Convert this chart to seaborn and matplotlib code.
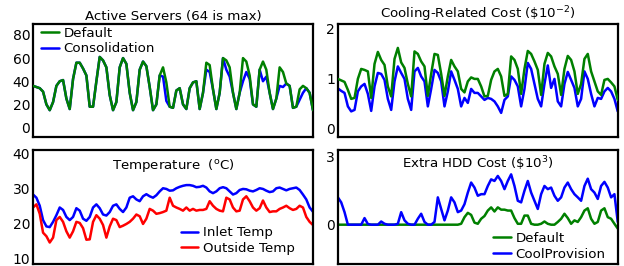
import seaborn as sns
import matplotlib.pyplot as plt
import pandas as pd

# active servers (sampled every ~4 hours)
servers_default = [
    36, 35, 34, 31, 20, 15, 22, 36, 40, 41,
    25, 16, 42, 56, 56, 51, 45, 18, 18, 40,
    61, 58, 52, 28, 15, 22, 52, 60, 55, 30,
    15, 22, 50, 57, 53, 35, 15, 20, 45, 52,
    39, 18, 17, 32, 34, 20, 16, 34, 39, 40,
    16, 30, 56, 54, 33, 16, 30, 60, 58, 52,
    30, 16, 30, 60, 57, 45, 20, 18, 50, 57,
    50, 30, 16, 25, 52, 48, 38, 36, 17, 18,
    33, 36, 34, 30, 15]
servers_consol = [
    36, 35, 34, 31, 20, 15, 22, 36, 40, 41,
    25, 16, 42, 56, 56, 51, 45, 18, 18, 40,
    61, 58, 52, 28, 15, 22, 52, 60, 55, 30,
    15, 22, 50, 57, 53, 35, 15, 20, 45, 44,
    23, 18, 17, 32, 34, 20, 16, 34, 39, 40,
    16, 30, 50, 48, 33, 16, 30, 60, 50, 44,
    30, 16, 30, 40, 48, 42, 20, 18, 50, 40,
    44, 30, 16, 25, 36, 35, 38, 36, 17, 18,
    24, 30, 34, 30, 15]

cooling_default = [
    1.00, 0.97, 0.94, 0.78, 0.60, 0.62, 1.00, 1.20, 1.18, 1.15,
    0.62, 1.30, 1.54, 1.38, 1.28, 0.85, 0.65, 1.40, 1.62, 1.33,
    1.22, 0.90, 0.65, 1.55, 1.50, 1.35, 1.25, 0.66, 1.10, 1.50,
    1.48, 1.10, 0.66, 1.05, 1.38, 1.25, 1.15, 0.80, 0.73, 0.95,
    1.03, 1.00, 1.00, 0.85, 0.65, 0.66, 0.98, 1.15, 1.20, 1.05,
    0.66, 0.70, 1.45, 1.38, 1.20, 0.70, 1.20, 1.56, 1.50, 1.35,
    1.18, 0.68, 1.30, 1.52, 1.45, 1.25, 1.10, 0.68, 1.20, 1.46,
    1.38, 1.15, 0.70, 0.90, 1.40, 1.50, 1.15, 0.95, 0.75, 0.68,
    0.98, 1.00, 0.93, 0.85, 0.58]
cooling_cp = [
    0.81, 0.76, 0.72, 0.45, 0.35, 0.38, 0.75, 0.85, 0.90, 0.70,
    0.36, 0.85, 1.12, 1.10, 0.98, 0.60, 0.38, 0.95, 1.25, 1.12,
    1.00, 0.60, 0.38, 1.15, 1.22, 1.05, 0.95, 0.45, 0.80, 1.18,
    1.12, 0.95, 0.45, 0.75, 1.15, 0.98, 0.80, 0.45, 0.62, 0.52,
    0.80, 0.72, 0.72, 0.65, 0.58, 0.62, 0.60, 0.55, 0.45, 0.32,
    0.58, 0.65, 1.05, 0.98, 0.85, 0.45, 0.80, 1.32, 1.20, 0.90,
    0.60, 0.45, 0.90, 1.27, 0.82, 1.00, 0.55, 0.45, 0.90, 1.14,
    0.98, 0.82, 0.45, 0.60, 1.15, 1.00, 0.70, 0.45, 0.62, 0.60,
    0.75, 0.82, 0.75, 0.60, 0.35]

inlet_temp = [
    28.4, 27.5, 25.2, 21.1, 19.3, 19.1, 20.6, 22.5, 24.7, 24.0,
    22.0, 21.1, 22.0, 24.5, 23.8, 21.5, 20.9, 22.0, 24.7, 25.6,
    24.5, 22.7, 22.4, 23.4, 25.2, 25.6, 24.3, 23.4, 24.7, 27.5,
    27.9, 27.0, 26.5, 27.9, 28.5, 27.9, 27.5, 28.2, 29.3, 30.2,
    30.0, 29.5, 29.6, 30.2, 30.6, 30.9, 31.1, 31.1, 30.9, 30.5,
    30.6, 30.9, 30.4, 29.3, 28.8, 29.3, 30.2, 30.5, 30.2, 29.3,
    28.4, 28.8, 29.7, 30.0, 29.9, 29.5, 29.3, 29.7, 30.2, 30.0,
    29.5, 29.1, 29.3, 30.2, 30.4, 30.0, 29.6, 30.0, 30.2, 30.4,
    29.7, 28.4, 27.0, 24.7, 23.5]
outside_temp = [
    24.7, 25.6, 22.9, 17.5, 16.5, 14.7, 16.1, 21.1, 22.0, 20.6,
    17.9, 16.1, 17.9, 20.6, 20.3, 18.8, 15.5, 15.6, 20.6, 22.5,
    21.5, 19.7, 16.1, 19.3, 21.5, 21.1, 19.1, 19.5, 20.0, 20.6,
    21.5, 22.7, 22.2, 20.0, 21.5, 24.3, 23.8, 22.9, 23.1, 23.4,
    23.8, 27.5, 25.2, 24.7, 24.3, 23.8, 24.7, 23.8, 24.3, 23.8,
    24.0, 24.0, 24.3, 26.5, 25.2, 24.3, 23.8, 23.6, 27.5, 27.0,
    24.7, 23.6, 23.8, 27.0, 27.9, 26.5, 24.7, 23.8, 24.5, 26.7,
    24.7, 23.4, 23.6, 23.6, 24.3, 24.7, 25.2, 24.5, 24.0, 24.3,
    25.2, 24.7, 22.0, 20.6, 19.7]

hdd_default = [
    0, 0, 0, 0, 0, 0, 0, 0, 0, 0,
    0, 0, 0, 0, 0, 0, 0, 0, 0, 0,
    0, 0, 0, 0, 0, 0, 0, 0, 0, 0,
    0, 0, 0, 0, 0, 0, 0, 0.04, 0.33, 0.52,
    0.43, 0.09, 0.04, 0.26, 0.38, 0.62, 0.76, 0.58, 0.76, 0.66,
    0.66, 0.62, 0.62, 0.29, 0.04, 0.04, 0.40, 0.40, 0.04, 0,
    0, 0.04, 0.14, 0.04, 0, 0, 0.12, 0.26, 0.48, 0.29,
    0.04, 0.19, 0.12, 0.33, 0.62, 0.72, 0.26, 0.04, 0.12, 0.62,
    0.72, 0.33, 0.26, 0.04, -0.17]
hdd_cp = [
    1.20, 0.98, 0.55, 0, 0, 0, 0, 0, 0.29, 0.03,
    0, 0, 0, 0.14, 0.04, 0, 0, 0, 0.04, 0.55,
    0.19, 0.04, 0, 0, 0.26, 0.48, 0.12, 0, 0, 0.12,
    1.20, 0.69, 0.19, 0.62, 1.20, 0.98, 0.55, 0.62, 0.90, 1.41,
    1.85, 1.63, 1.27, 1.34, 1.34, 1.70, 1.99, 1.92, 2.14, 1.92,
    1.56, 1.92, 2.21, 1.70, 1.05, 0.98, 1.49, 1.92, 1.41, 1.05,
    0.69, 1.34, 1.70, 1.56, 1.63, 1.27, 1.05, 1.20, 1.63, 1.85,
    1.56, 1.34, 1.20, 1.05, 1.70, 2.02, 1.56, 1.41, 1.13, 1.70,
    1.88, 1.63, 1.20, 1.34, 0.12]


def long_df(series):
    rows = []
    for name, vals in series.items():
        for i, v in enumerate(vals):
            rows.append({'t': i, 'val': v, 'series': name})
    return pd.DataFrame(rows)


sns.set_style('white')
plt.rcParams['font.family'] = ['DejaVu Sans']
plt.rcParams['text.color'] = 'black'
plt.rcParams['ytick.color'] = 'black'
plt.rcParams['axes.labelcolor'] = 'black'
FS = 9.6

fig, axes = plt.subplots(2, 2, figsize=(6.24, 2.66), dpi=100)
fig.subplots_adjust(left=0.053, right=0.990, bottom=0.008, top=0.910,
                    wspace=0.089, hspace=0.115)

panels = [
    (axes[0, 0], {'Default': servers_default, 'Consolidation': servers_consol},
     {'Default': 'green', 'Consolidation': 'blue'}, (-8.5, 89.5), [0, 20, 40, 60, 80]),
    (axes[0, 1], {'Default': cooling_default, 'CoolProvision': cooling_cp},
     {'Default': 'green', 'CoolProvision': 'blue'}, (-0.17, 2.1), [0, 1, 2]),
    (axes[1, 0], {'Inlet Temp': inlet_temp, 'Outside Temp': outside_temp},
     {'Inlet Temp': 'blue', 'Outside Temp': 'red'}, (8.6, 41.0), [10, 20, 30, 40]),
    (axes[1, 1], {'Default': hdd_default, 'CoolProvision': hdd_cp},
     {'Default': 'green', 'CoolProvision': 'blue'}, (-1.72, 3.26), [0, 3]),
]

for ax, series, pal, ylim, yt in panels:
    df = long_df(series)
    sns.lineplot(data=df, x='t', y='val', hue='series', hue_order=list(series),
                 palette=pal, linewidth=1.8, ax=ax)
    ax.set_xlim(0, len(servers_default) - 1)
    ax.set_ylim(*ylim)
    ax.set_yticks(yt)
    ax.set_xticks([])
    ax.set_xlabel('')
    ax.set_ylabel('')
    ax.tick_params(axis='y', length=0, pad=2, labelsize=FS + 0.4, colors='black')
    for s in ax.spines.values():
        s.set_color('black')
        s.set_linewidth(1.6)

# green on top of blue where they overlap
axes[0, 0].lines[0].set_zorder(3)
axes[0, 1].lines[0].set_zorder(3)

leg_kw = dict(frameon=False, fontsize=FS, handlelength=1.3, handletextpad=0.35,
              labelspacing=0.2, borderpad=0.2, borderaxespad=0)
axes[0, 0].legend(loc='upper left', bbox_to_anchor=(0.02, 1.0), **leg_kw)
axes[0, 1].get_legend().remove()
axes[1, 0].legend(loc='lower right', bbox_to_anchor=(0.945, 0.055), **leg_kw)
axes[1, 1].legend(loc='lower right', bbox_to_anchor=(0.965, 0.005), **leg_kw)

axes[0, 0].set_title('Active Servers (64 is max)', fontsize=FS, pad=3)
axes[0, 1].set_title(r'Cooling-Related Cost (\$10$^{-2}$)', fontsize=FS, pad=3)
axes[1, 0].text(0.5, 0.84, r'Temperature  ($^{\mathrm{o}}$C)', fontsize=FS,
                ha='center', transform=axes[1, 0].transAxes)
axes[1, 1].text(0.5, 0.84, r'Extra HDD Cost (\$10$^{3}$)', fontsize=FS,
                ha='center', transform=axes[1, 1].transAxes)

plt.savefig('out.png', dpi=100)
